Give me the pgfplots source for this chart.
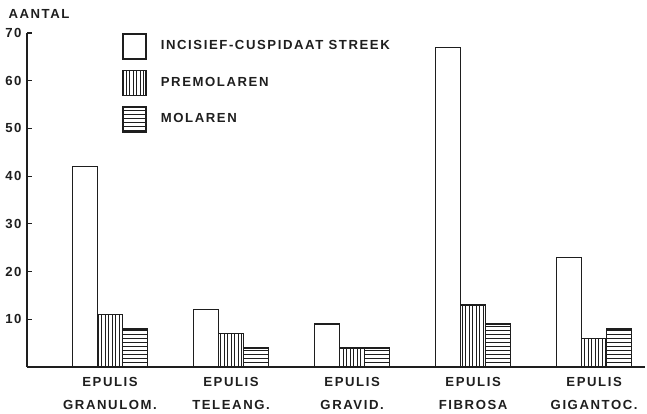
\documentclass[border=0pt]{standalone}
\usepackage{fontspec}
\setmainfont{Liberation Sans}[LetterSpace=12]
\usepackage{pgfplots}
\pgfplotsset{compat=1.18}
\usetikzlibrary{patterns.meta,calc}
\definecolor{ink}{HTML}{1E1E1E}
\newcommand\lab{\fontsize{13.2}{23}\selectfont\bfseries}
\begin{document}
\begin{tikzpicture}
\begin{axis}[
  scale only axis,
  width=618bp, height=334bp,
  ybar=0pt, bar width=0.2066,
  legend image code/.code={\draw[#1] (0bp,-13bp) rectangle (23bp,12bp);},
  xmin=-0.686, xmax=4.42, ymin=0, ymax=70,
  axis x line=bottom, axis y line=left,
  axis line style={-, line width=1.8bp, ink},
  xtick={0,1,2,3,4},
  xticklabels={{EPULIS\\GRANULOM.},{EPULIS\\TELEANG.},{EPULIS\\GRAVID.},{EPULIS\\FIBROSA},{EPULIS\\GIGANTOC.}},
  xticklabel style={align=center, font=\lab, text=ink, yshift=-7bp},
  x tick style={draw=none},
  ytick={10,20,30,40,50,60,70},
  yticklabel style={font=\lab, text=ink, xshift=-2bp},
  /pgf/number format/assume math mode=true,
  y tick style={line width=1.2bp, ink},
  tick align=inside, major tick length=5bp,
  clip=false,
  legend style={at={(0.154,1.0)}, anchor=north west, draw=none, fill=none,
    font=\lab, text=ink, row sep=10bp, inner sep=0pt,
    /tikz/every odd column/.append style={column sep=12bp}},
  legend cell align=left,
]
\addplot[draw=ink, line width=1.5bp, fill=white] coordinates {(0,42) (1,12) (2,9) (3,67) (4,23)};
\addplot[draw=ink, line width=1.5bp, pattern={Lines[angle=90,distance=3.5bp,line width=0.8bp]}, pattern color=ink] coordinates {(0,11) (1,7) (2,4) (3,13) (4,6)};
\addplot[draw=ink, line width=1.5bp, pattern={Lines[angle=0,distance=4bp,line width=0.8bp]}, pattern color=ink] coordinates {(0,8) (1,4) (2,4) (3,9) (4,8)};
\legend{INCISIEF-CUSPIDAAT STREEK, PREMOLAREN, MOLAREN}
\node[anchor=west, font=\lab, text=ink] at ($(rel axis cs:0,1)+(-22bp,19bp)$) {AANTAL};
\end{axis}
\pgfresetboundingbox
\path ($(current axis.south west)+(-27bp,-47bp)$) rectangle ($(current axis.north east)+(2bp,33bp)$);
\end{tikzpicture}
\end{document}
